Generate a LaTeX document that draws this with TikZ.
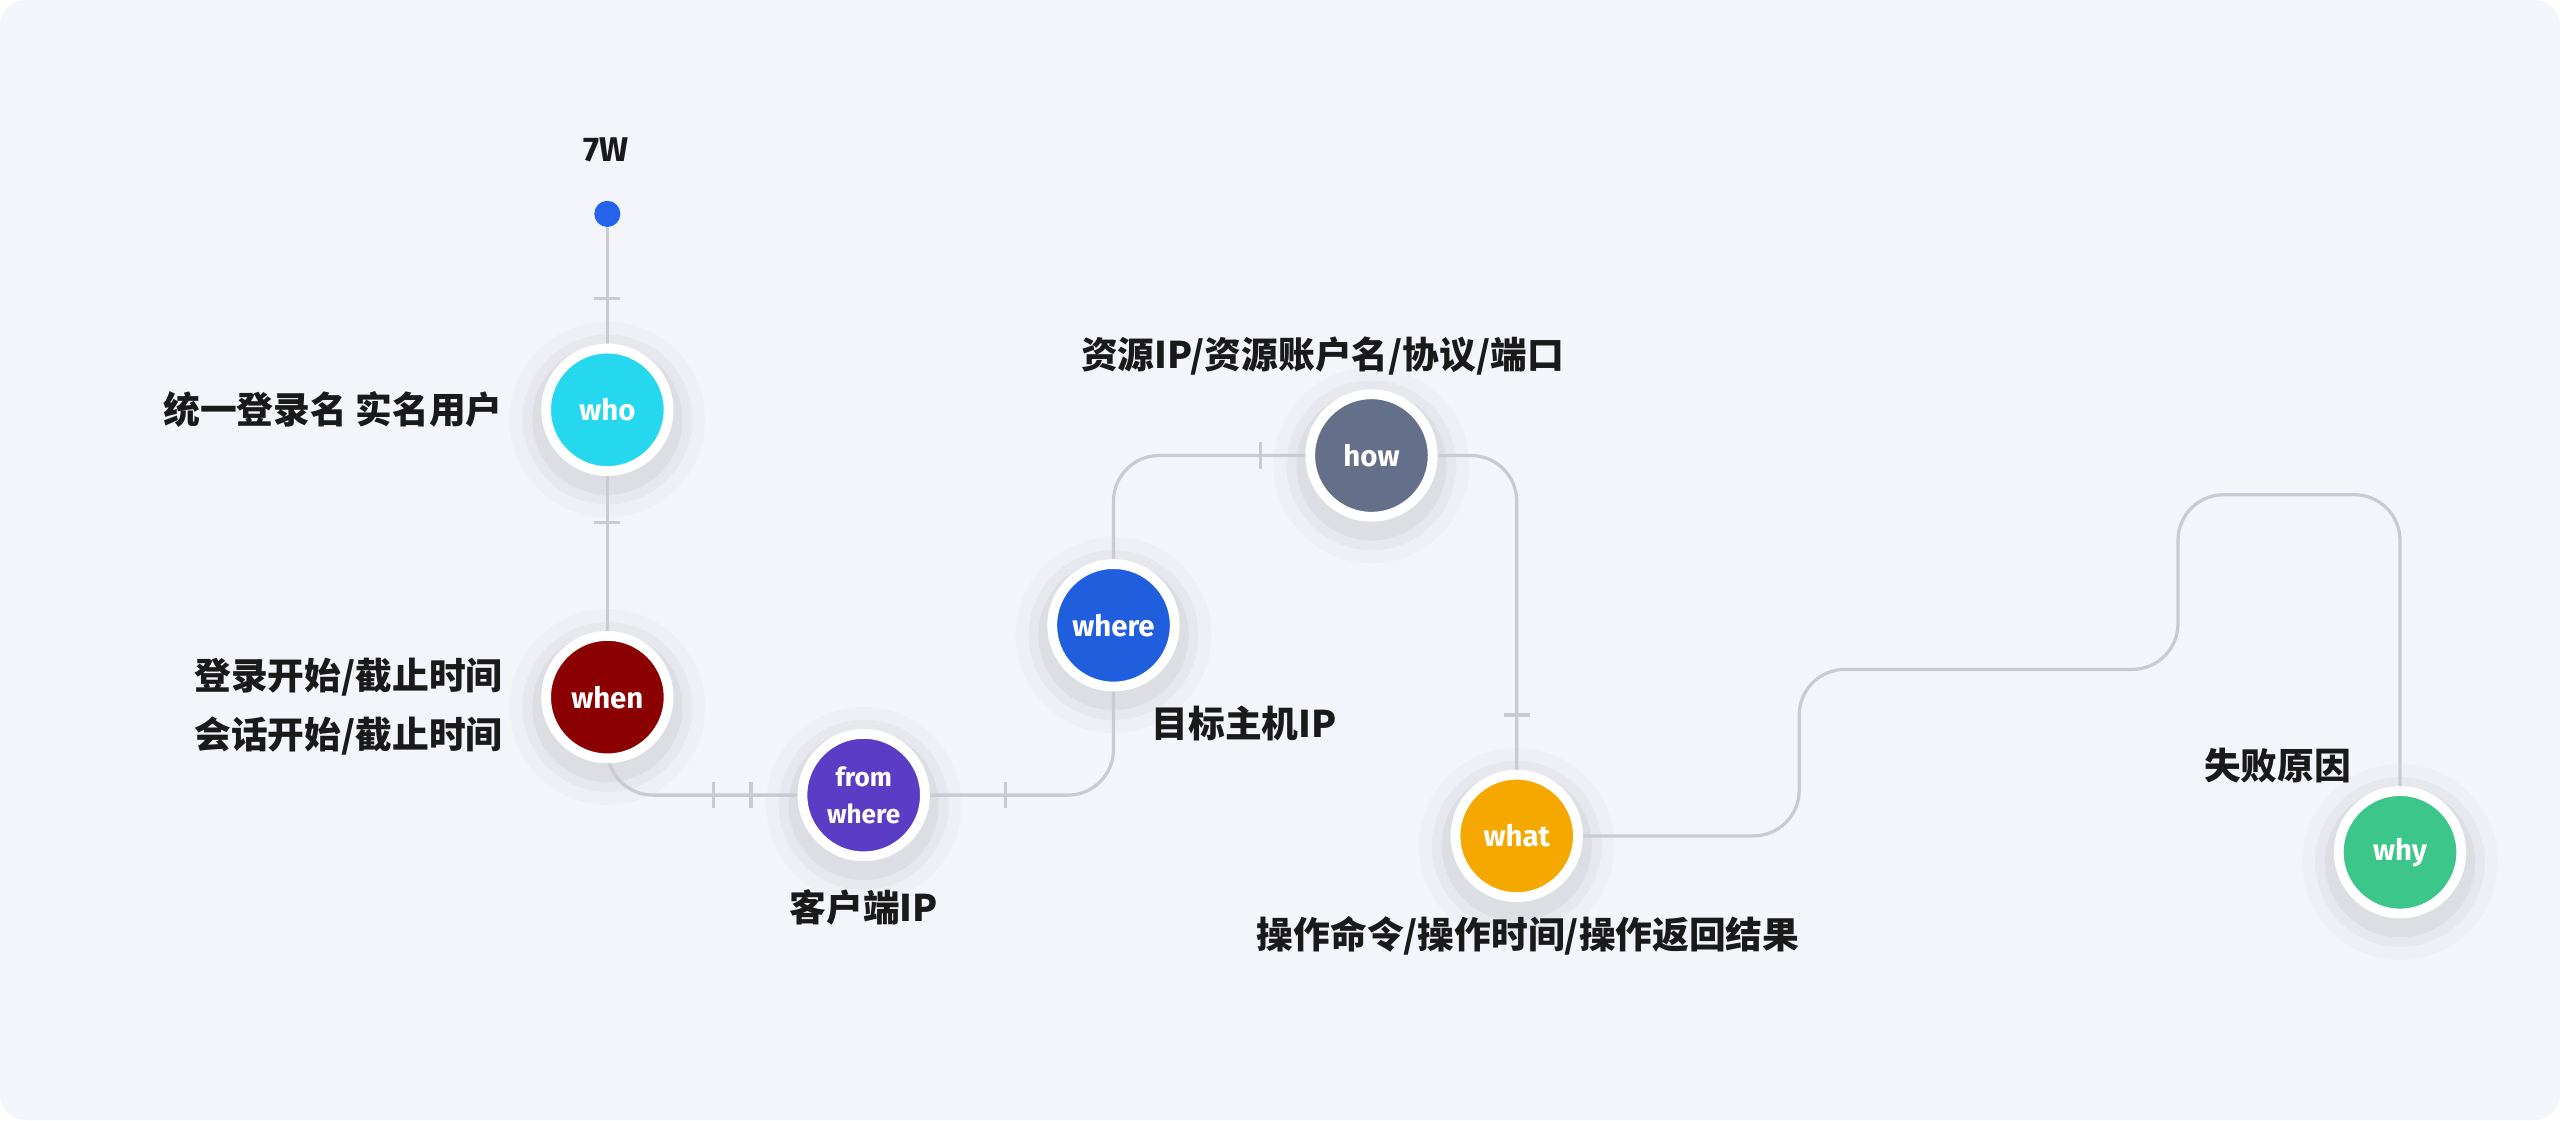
\documentclass[tikz,border=0pt]{standalone}
\usepackage{fontspec}
\setmainfont{Noto Sans CJK SC}
\newfontfamily\latinb{Fira Sans}
\pgfdeclarelayer{back}
\pgfdeclarelayer{bg}
\pgfsetlayers{back,bg,main}
\definecolor{bgc}{HTML}{F3F5FA}
\definecolor{linec}{HTML}{C8CBD3}
\definecolor{cwho}{HTML}{25D8EE}
\definecolor{cwhen}{HTML}{8B0000}
\definecolor{cfrom}{HTML}{5B3CC4}
\definecolor{cwhere}{HTML}{1F5FDE}
\definecolor{chow}{HTML}{64708A}
\definecolor{cwhat}{HTML}{F5A800}
\definecolor{cwhy}{HTML}{3CC68A}
\definecolor{cdot}{HTML}{2563EB}
\definecolor{txt}{HTML}{1A1A1A}
\tikzset{
  circ/.style={circle,minimum size=75pt,inner sep=0pt,draw=white,line width=6pt,
    text=white,font=\latinb\bfseries\fontsize{18}{20}\selectfont,align=center},
  conn/.style={linec,line width=2pt,rounded corners=28pt},
  tickv/.style={linec,line width=2pt},
  lbl/.style={text=txt,font=\bfseries\fontsize{22.5}{36}\selectfont,inner sep=0pt},
}
\begin{document}
\begin{tikzpicture}[x=1pt,y=-1pt]
\useasboundingbox (0,0) rectangle (1568,686);
\begin{pgfonlayer}{back}
\fill[white] (0,0) rectangle (1568,686);
\fill[bgc,rounded corners=16pt] (0,0) rectangle (1568,686);
\foreach \p in {(372,251),(372,427),(529,487),(682,383),(840,279),(929,512),(1470,522)}{
  \foreach \r/\o in {60/0.02,52/0.03,46/0.04}
    \fill[black,opacity=\o] \p ++(0,6) circle (\r pt);
}
\end{pgfonlayer}

\node[circle,fill=cdot,minimum size=16pt,inner sep=0pt] (dot) at (372,131) {};
\node[lbl,font=\latinb\bfseries\fontsize{21}{24}\selectfont] (t7w) at (371,92) {7W};
\node[circ,fill=cwho] (who) at (372,251) {who};
\node[circ,fill=cwhen] (when) at (372,427) {when};
\node[circ,fill=cfrom,font=\latinb\bfseries\fontsize{16}{23}\selectfont] (from) at (529,487) {from\\where};
\node[circ,fill=cwhere] (where) at (682,383) {where};
\node[circ,fill=chow] (how) at (840,279) {how};
\node[circ,fill=cwhat] (what) at (929,512) {what};
\node[circ,fill=cwhy] (why) at (1470,522) {why};

\coordinate (p1) at (1102,512);
\coordinate (p2) at (1102,410);
\coordinate (p3) at (1334,410);
\coordinate (p4) at (1334,303);
\coordinate (p5) at (1470,303);

\begin{pgfonlayer}{bg}
\draw[conn] (dot) -- (who);
\draw[conn] (who) -- (when);
\draw[conn] (when) |- (from);
\draw[conn] (from) -| (where);
\draw[conn] (where) |- (how);
\draw[conn] (how) -| (what);
\draw[conn] (what) -- (p1) -- (p2) -- (p3) -- (p4) -- (p5) -- (why);
\foreach \y in {183,320} \draw[tickv] (364,\y) -- (380,\y);
\draw[tickv] (921,438) -- (937,438);
\foreach \x in {437,460,616} \draw[tickv] (\x,479) -- (\x,495);
\draw[tickv] (772,271) -- (772,287);
\end{pgfonlayer}

\node[lbl,anchor=east] (lwho) at (308,251) {统一登录名 实名用户};
\node[lbl,anchor=east,align=right] (lwhen) at (308,433) {登录开始/截止时间\\会话开始/截止时间};
\node[lbl] (lfrom) at (529,556) {客户端IP};
\node[lbl] (lwhere) at (762,443) {目标主机IP};
\node[lbl] (lhow) at (810,218) {资源IP/资源账户名/协议/端口};
\node[lbl] (lwhat) at (936,573) {操作命令/操作时间/操作返回结果};
\node[lbl] (lwhy) at (1395,469) {失败原因};
\end{tikzpicture}
\end{document}
